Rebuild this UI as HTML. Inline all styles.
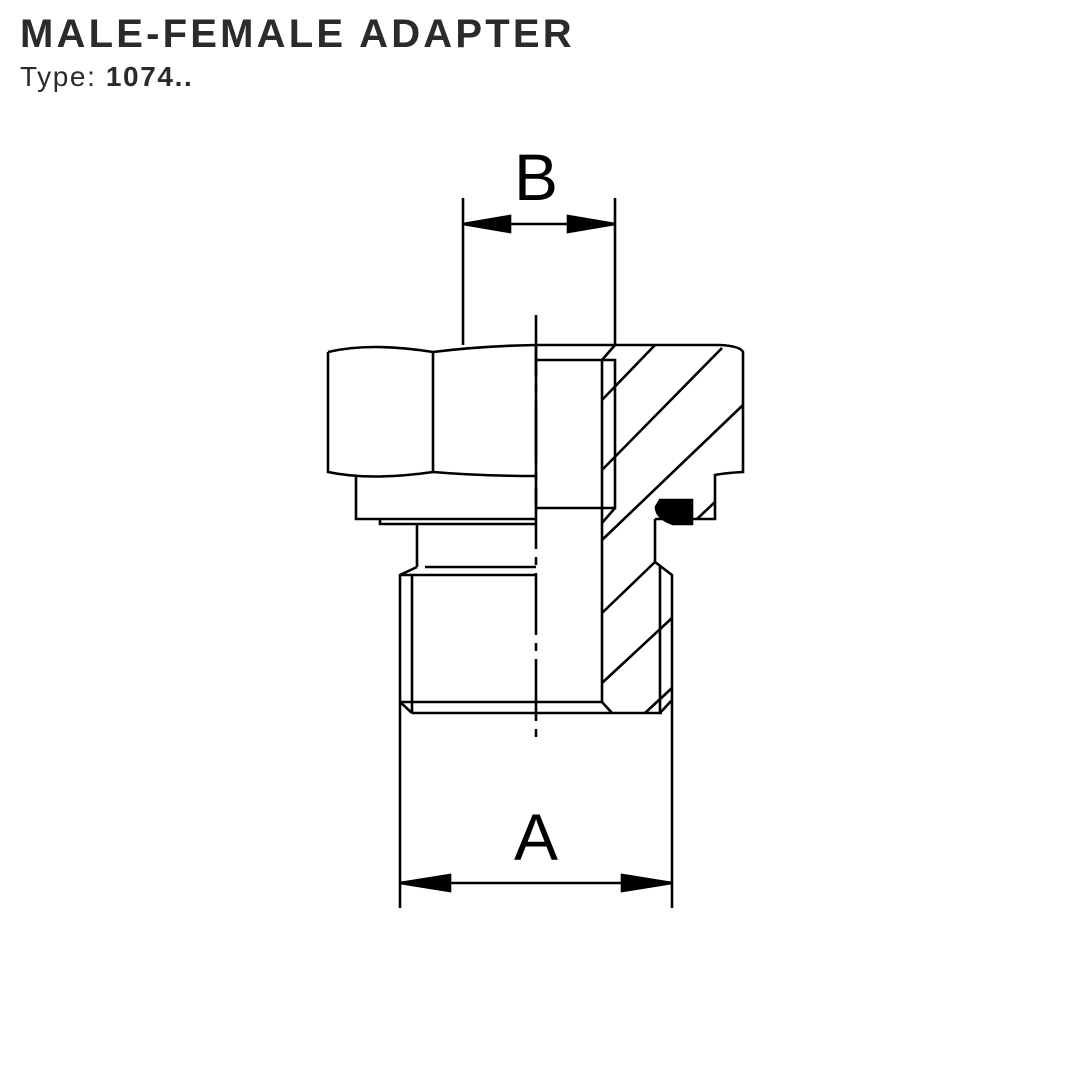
<!DOCTYPE html>
<html><head><style>
html,body{margin:0;padding:0;background:#fff;width:1080px;height:1080px;overflow:hidden}
.t{position:absolute;left:20px;font-family:"Liberation Sans",sans-serif;color:#2b2b2b;white-space:nowrap}
</style></head><body>
<div class="t" style="top:12px;font-size:40px;font-weight:bold;letter-spacing:3.2px">MALE-FEMALE ADAPTER</div>
<div class="t" style="top:61px;font-size:28px;letter-spacing:1.6px">Type: <b>1074..</b></div>
<svg width="1080" height="1080" style="position:absolute;left:0;top:0" fill="none" stroke="#000" stroke-width="2.6" stroke-linejoin="miter">
<line x1="463" y1="198" x2="463" y2="345"/>
<line x1="615" y1="198" x2="615" y2="345"/>
<line x1="463" y1="224" x2="615" y2="224"/>
<polygon points="463,224 510,216 510,232" fill="#000"/>
<polygon points="615,224 568,216 568,232" fill="#000"/>
<text x="536" y="200" font-family="Liberation Sans,sans-serif" font-size="66" text-anchor="middle" fill="#000" stroke="none">B</text>
<line x1="400" y1="713" x2="400" y2="908"/>
<line x1="672" y1="713" x2="672" y2="908"/>
<line x1="400" y1="883" x2="672" y2="883"/>
<polygon points="400,883 450,875 450,891" fill="#000"/>
<polygon points="672,883 622,875 622,891" fill="#000"/>
<text x="536" y="860" font-family="Liberation Sans,sans-serif" font-size="66" text-anchor="middle" fill="#000" stroke="none">A</text>
<path d="M328,352 Q370,342 433,352 Q480,346 536,345 L720,345 Q740,346 743,352 L743,472 Q725,473 715,475 L715,519 L655,519"/>
<path d="M328,352 L328,472 Q370,481 433,472 Q480,476 536,476"/>
<line x1="433" y1="352" x2="433" y2="472"/>
<path d="M356,476 L356,519 L536,519"/>
<path d="M380,519 L380,524 L536,524"/>
<line x1="417" y1="524" x2="417" y2="567"/>
<path d="M536,360 L615,360 L615,508 L536,508"/>
<line x1="536" y1="345" x2="536" y2="508"/>
<line x1="602" y1="360" x2="602" y2="703"/>
<line x1="615" y1="345" x2="602" y2="360"/>
<line x1="615" y1="508" x2="602" y2="523"/>
<line x1="425" y1="567" x2="536" y2="567"/>
<path d="M417,567 L400,575 L400,713"/>
<line x1="400" y1="575" x2="536" y2="575"/>
<line x1="412" y1="575" x2="412" y2="713"/>
<line x1="400" y1="702" x2="536" y2="702"/>
<line x1="400" y1="702" x2="412" y2="713"/>
<line x1="412" y1="713" x2="662" y2="713"/>
<line x1="602" y1="702" x2="612" y2="713"/>
<line x1="536" y1="702" x2="602" y2="702"/>
<path d="M655,519 L655,562 L672,575 L672,713"/>
<line x1="660" y1="567" x2="660" y2="713"/>
<line x1="672" y1="700" x2="660" y2="713"/>
<line x1="602" y1="400" x2="655" y2="345"/>
<line x1="602" y1="470" x2="722" y2="348"/>
<line x1="602" y1="540" x2="743" y2="405"/>
<line x1="602" y1="613" x2="655" y2="562"/>
<line x1="602" y1="683" x2="672" y2="618"/>
<line x1="645" y1="713" x2="672" y2="688"/>
<line x1="697" y1="519" x2="715" y2="502"/>
<path d="M660,500 L692,500 L692,524 L673,524 Q656,518 656,507 Z" fill="#000"/>
<path d="M536,315 L536,745" stroke-dasharray="62,8,8,8"/>
</svg>
</body></html>
